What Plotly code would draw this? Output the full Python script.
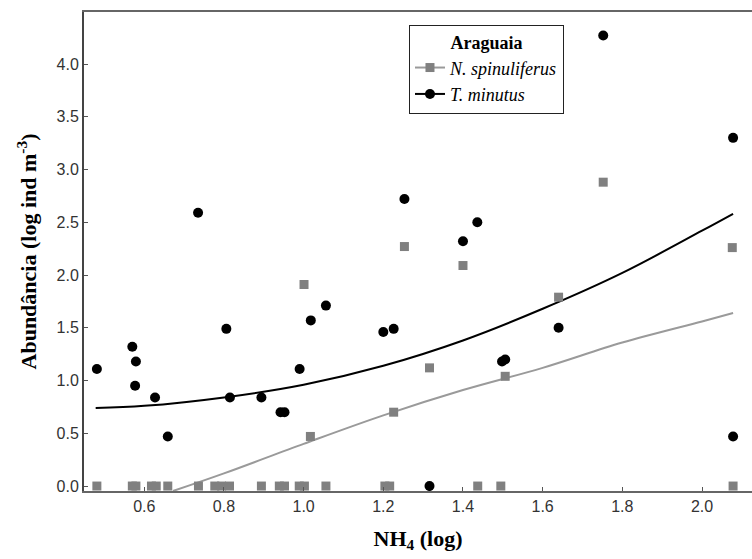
import plotly.graph_objects as go

# NH4 (log) vs abundance (log ind m-3), Araguaia
x_tm = [0.481, 0.570, 0.579, 0.577, 0.627, 0.659, 0.735, 0.806, 0.815, 0.894,
        0.942, 0.952, 0.990, 1.018, 1.056, 1.200, 1.226, 1.253, 1.316, 1.400,
        1.436, 1.498, 1.506, 1.640, 1.752, 2.078, 2.078]
y_tm = [1.11, 1.32, 1.18, 0.95, 0.84, 0.47, 2.59, 1.49, 0.84, 0.84,
        0.70, 0.70, 1.11, 1.57, 1.71, 1.46, 1.49, 2.72, 0.00, 2.32,
        2.50, 1.18, 1.20, 1.50, 4.27, 3.30, 0.47]

x_ns = [0.481, 0.570, 0.579, 0.618, 0.630, 0.659, 0.736, 0.777, 0.794, 0.814,
        0.894, 0.939, 0.952, 0.989, 1.002, 1.056, 1.204, 1.216, 1.437, 1.495,
        2.078,
        1.001, 1.017, 1.226, 1.253, 1.316, 1.400, 1.506, 1.640, 1.752, 2.076]
y_ns = [0.0, 0.0, 0.0, 0.0, 0.0, 0.0, 0.0, 0.0, 0.0, 0.0,
        0.0, 0.0, 0.0, 0.0, 0.0, 0.0, 0.0, 0.0, 0.0, 0.0,
        0.0,
        1.91, 0.47, 0.70, 2.27, 1.12, 2.09, 1.04, 1.79, 2.88, 2.26]

# fitted trend curves
fit_tm_x = [0.478, 0.6, 0.8, 1.0, 1.2, 1.4, 1.6, 1.8, 2.0, 2.078]
fit_tm_y = [0.74, 0.76, 0.84, 0.96, 1.14, 1.38, 1.68, 2.02, 2.42, 2.58]
fit_ns_x = [0.672, 0.8, 1.0, 1.2, 1.4, 1.6, 1.8, 2.0, 2.078]
fit_ns_y = [-0.047, 0.12, 0.40, 0.67, 0.91, 1.12, 1.36, 1.56, 1.64]

x_ticks = [0.6, 0.8, 1.0, 1.2, 1.4, 1.6, 1.8, 2.0]
y_ticks = [0.0, 0.5, 1.0, 1.5, 2.0, 2.5, 3.0, 3.5, 4.0]

GRAY_MK = "#808080"
GRAY_LN = "#9a9a9a"
SANS = "Liberation Sans, Arial, sans-serif"
SERIF = "Liberation Serif, Times New Roman, serif"

fig = go.Figure()

# trend curves
fig.add_trace(go.Scatter(
    x=fit_ns_x, y=fit_ns_y, mode="lines", line=dict(color=GRAY_LN, width=2, shape="spline"),
    showlegend=False, hoverinfo="skip"))
fig.add_trace(go.Scatter(
    x=fit_tm_x, y=fit_tm_y, mode="lines", line=dict(color="black", width=2, shape="spline"),
    showlegend=False, hoverinfo="skip"))

# observations
fig.add_trace(go.Scatter(
    x=x_ns, y=y_ns, mode="markers", name="N. spinuliferus", showlegend=False,
    marker=dict(symbol="square", size=9, color=GRAY_MK)))
fig.add_trace(go.Scatter(
    x=x_tm, y=y_tm, mode="markers", name="T. minutus", showlegend=False,
    marker=dict(symbol="circle", size=10, color="black")))

# legend entries: marker plus fitted line
fig.add_trace(go.Scatter(
    x=[None], y=[None], mode="markers+lines", name="<i>N. spinuliferus</i>",
    marker=dict(symbol="square", size=9, color=GRAY_MK),
    line=dict(color=GRAY_LN, width=2)))
fig.add_trace(go.Scatter(
    x=[None], y=[None], mode="markers+lines", name="<i>T. minutus</i>",
    marker=dict(symbol="circle", size=10, color="black"),
    line=dict(color="black", width=2)))

fig.update_layout(
    width=752, height=559,
    margin=dict(l=84, r=0, t=12, b=68),
    plot_bgcolor="white", paper_bgcolor="white",
    font=dict(family=SANS, size=16, color="#333333"),
    legend=dict(
        x=0.4865, y=0.973, xanchor="left", yanchor="top",
        bgcolor="white", bordercolor="#222222", borderwidth=1,
        font=dict(family=SERIF, size=18, color="black"),
        title=dict(text="<b>Araguaia</b>", side="top center",
                   font=dict(family=SERIF, size=18, color="black")),
        itemwidth=30, tracegroupgap=0,
    ),
)

fig.update_xaxes(
    range=[0.4487, 2.1255], tickvals=x_ticks, tickformat=".1f",
    ticks="inside", ticklen=4, tickcolor="#555555", tickwidth=1,
    showgrid=False, zeroline=False,
    showline=True, linecolor="#666666", linewidth=2, mirror=True,
    title=dict(text="NH<sub>4</sub> (log)", standoff=16,
               font=dict(family=SERIF, size=22, color="black", weight="bold")),
)
fig.update_yaxes(
    range=[-0.047, 4.493], tickvals=y_ticks, tickformat=".1f",
    ticks="inside", ticklen=4, tickcolor="#555555", tickwidth=1,
    showgrid=False, zeroline=False,
    showline=True, linecolor="#444444", linewidth=2, mirror=False,
    title=dict(text="Abundância (log ind m<sup>-3</sup>)", standoff=14,
               font=dict(family=SERIF, size=22, color="black", weight="bold")),
)

fig.write_html("out.html")
